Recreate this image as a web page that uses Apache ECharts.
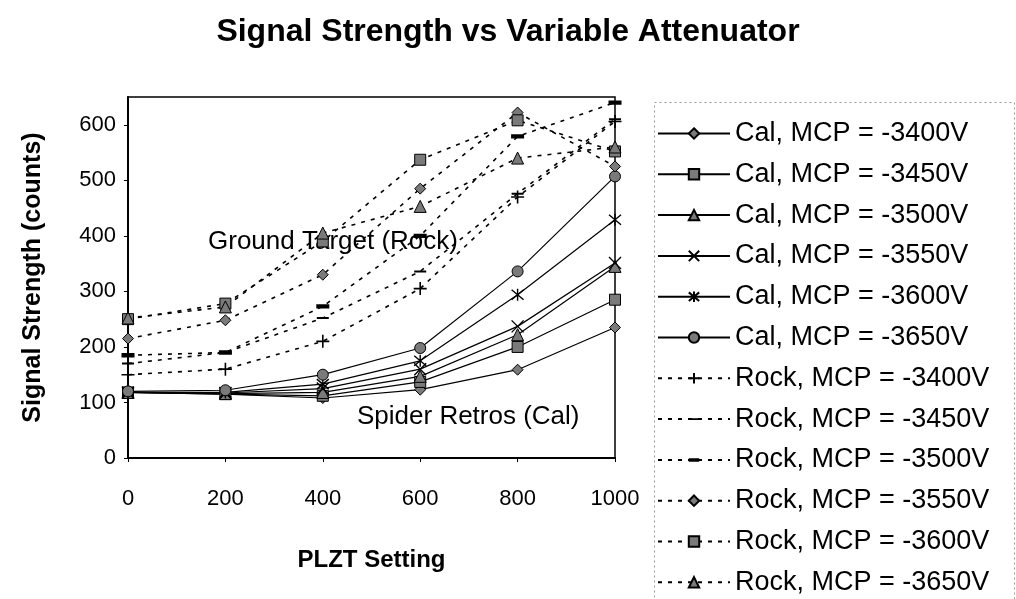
<!DOCTYPE html>
<html>
<head>
<meta charset="utf-8">
<script src="https://cdn.jsdelivr.net/npm/echarts@6/dist/echarts.min.js"></script>
<style>
html,body{margin:0;padding:0;background:#fff;}
#chart{width:1016px;height:599px;}
</style>
</head>
<body>
<div id="chart"></div>
<script>
const plzt = [0, 200, 400, 600, 800, 1000];
const yTicks = [0, 100, 200, 300, 400, 500, 600];

const cal3400 = [118, 115, 108, 123, 159, 235];
const cal3450 = [118, 115, 112, 137, 200, 285];
const cal3500 = [118, 116, 118, 147, 222, 345];
const cal3550 = [118, 117, 125, 160, 237, 351];
const cal3600 = [118, 118, 133, 175, 294, 429];
const cal3650 = [120, 122, 150, 198, 336, 507];

const rock3400 = [150, 160, 210, 305, 470, 606];
const rock3450 = [170, 190, 252, 336, 476, 610];
const rock3500 = [185, 190, 273, 400, 579, 640];
const rock3550 = [215, 248, 330, 485, 622, 525];
const rock3600 = [250, 278, 390, 537, 608, 552];
const rock3650 = [252, 272, 405, 453, 540, 560];

const seriesNames = [
  'Cal, MCP = -3400V','Cal, MCP = -3450V','Cal, MCP = -3500V','Cal, MCP = -3550V',
  'Cal, MCP = -3600V','Cal, MCP = -3650V',
  'Rock, MCP = -3400V','Rock, MCP = -3450V','Rock, MCP = -3500V','Rock, MCP = -3550V',
  'Rock, MCP = -3600V','Rock, MCP = -3650V'
];
const seriesValues = [cal3400, cal3450, cal3500, cal3550, cal3600, cal3650,
                      rock3400, rock3450, rock3500, rock3550, rock3600, rock3650];

const FONT = "'Liberation Sans', Arial, sans-serif";
const GRAY = '#7a7a7a';
const symX = 'path://M0,0L10,10M10,0L0,10';
const symStar = 'path://M0,0L10,10M10,0L0,10M5,-1L5,11';
const symPlus = 'path://M5,0L5,10M0,5L10,5';
// square bounding box with the dash drawn in its middle
const symThin = 'path://M0,0L0.01,0M0,5L12,5L12,7L0,7ZM0,12L0.01,12';
const symThick = 'path://M0,0L0.01,0M0,4L12,4L12,8L0,8ZM0,12L0.01,12';

const markers = [
  {symbol:'diamond', size:11, fill:GRAY, bw:1},
  {symbol:'rect', size:11, fill:GRAY, bw:1},
  {symbol:'triangle', size:12, fill:GRAY, bw:1},
  {symbol:symX, size:12, fill:'#000', bw:1.4},
  {symbol:symStar, size:12, fill:'#000', bw:1.4},
  {symbol:'circle', size:11, fill:GRAY, bw:1},
  {symbol:symPlus, size:13, fill:'#000', bw:1.6},
  {symbol:symThin, size:12, fill:'#000', bw:0},
  {symbol:symThick, size:13, fill:'#000', bw:0},
  {symbol:'diamond', size:11, fill:GRAY, bw:1},
  {symbol:'rect', size:11, fill:GRAY, bw:1},
  {symbol:'triangle', size:12, fill:GRAY, bw:1}
];

const series = seriesNames.map((name, i) => {
  const isRock = i >= 6;
  const m = markers[i];
  return {
    name: name,
    type: 'line',
    data: plzt.map((x, j) => [x, seriesValues[i][j]]),
    symbol: m.symbol,
    symbolSize: m.size,
    showAllSymbol: true,
    itemStyle: {color: m.fill, borderColor: m.bw ? '#000' : 'rgba(0,0,0,0)', borderWidth: m.bw},
    lineStyle: {color: '#000', width: isRock ? 1.6 : 1.2, type: isRock ? [4, 6] : 'solid'},
    emphasis: {disabled: true},
    z: isRock ? 3 : 2
  };
});

const chart = echarts.init(document.getElementById('chart'), null, {renderer: 'canvas'});
chart.setOption({
  animation: false,
  backgroundColor: '#fff',
  title: {
    text: 'Signal Strength vs Variable Attenuator',
    left: 'center', top: 11,
    textStyle: {fontFamily: FONT, fontSize: 32, fontWeight: 'bold', color: '#000'}
  },
  grid: {left: 128, right: 401, top: 97, bottom: 141, show: true, borderColor: '#000', borderWidth: 1.5, backgroundColor: 'transparent'},
  xAxis: {
    type: 'value', min: 0, max: 1000, interval: 200,
    name: 'PLZT Setting', nameLocation: 'middle', nameGap: 90,
    nameTextStyle: {fontFamily: FONT, fontSize: 24, fontWeight: 'bold', color: '#000'},
    axisLine: {lineStyle: {color: '#000', width: 2}},
    axisTick: {show: true, length: 4, lineStyle: {color: '#000'}},
    splitLine: {show: false},
    axisLabel: {fontFamily: FONT, fontSize: 22, color: '#000', margin: 30, formatter: v => String(v)}
  },
  yAxis: {
    type: 'value', min: 0, max: 650, interval: 100,
    name: 'Signal Strength (counts)', nameLocation: 'middle', nameGap: 82, nameRotate: 90,
    nameTextStyle: {fontFamily: FONT, fontSize: 25, fontWeight: 'bold', color: '#000'},
    axisLine: {show: true, lineStyle: {color: '#000', width: 2}},
    axisTick: {show: true, length: 4, lineStyle: {color: '#000'}},
    splitLine: {show: false},
    axisLabel: {fontFamily: FONT, fontSize: 22, color: '#000', margin: 12, showMaxLabel: false,
      formatter: v => (yTicks.indexOf(v) >= 0 ? String(v) : '')}
  },
  legend: {
    orient: 'vertical', left: 657, top: 120, height: 520, padding: 0,
    itemWidth: 72, itemHeight: 13, itemGap: 13.8,
    textStyle: {fontFamily: FONT, fontSize: 27, color: '#000', lineHeight: 27},
    selectedMode: false,
    data: seriesNames
  },
  graphic: [
    {type: 'rect', left: 652, top: 100, shape: {width: 360, height: 520},
     style: {fill: 'none', stroke: '#999', lineWidth: 1, lineDash: [2, 3]}, silent: true},
    {type: 'text', left: 208, top: 229,
     style: {text: 'Ground Target (Rock)', fontFamily: FONT, fontSize: 26, fill: '#000'}},
    {type: 'text', left: 357, top: 404,
     style: {text: 'Spider Retros (Cal)', fontFamily: FONT, fontSize: 26, fill: '#000'}}
  ],
  series: series
});
</script>
</body>
</html>
